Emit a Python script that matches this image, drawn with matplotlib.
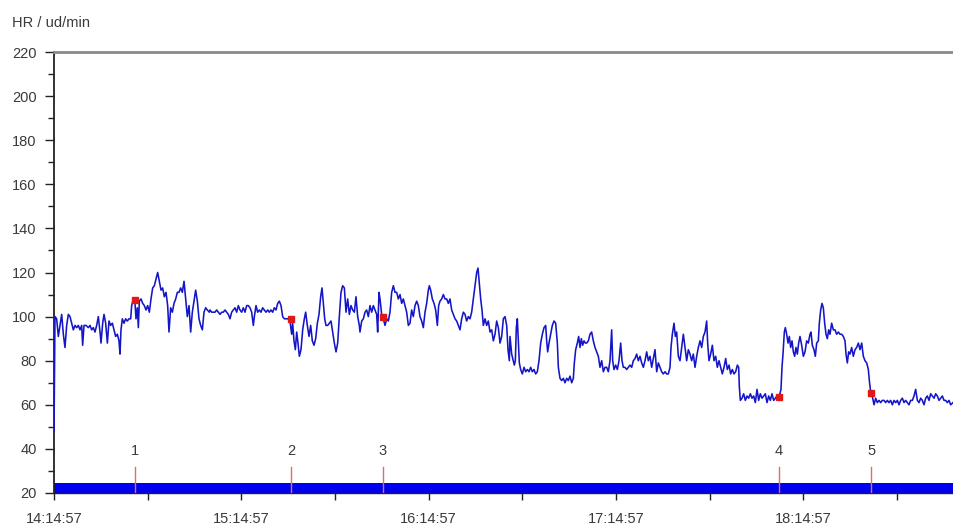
import matplotlib
matplotlib.use("Agg")
import matplotlib.pyplot as plt
from matplotlib.ticker import MultipleLocator, FixedLocator

# ---------------- data (minutes since 14:14:57, heart rate in beats/min) ----------------
start_min = [0.0]
start_hr = [48]

seg1_min = [0.32, 0.85, 1.39, 1.92, 2.46, 2.99, 3.52, 4.06, 4.59, 5.13,
            5.66, 6.19, 6.73, 7.26, 7.80, 8.33, 8.86, 9.18, 9.61, 10.25,
            11.00, 11.53, 12.07, 12.60, 13.13, 13.67, 14.20, 14.74, 15.06, 15.59,
            16.02, 16.55, 17.09, 17.62, 18.15, 18.69, 19.22, 19.75, 20.29, 20.82,
            21.14, 21.46, 21.89, 22.42, 22.96, 23.49, 24.03, 24.56, 24.88, 25.41,
            25.95, 26.27, 26.69, 27.02, 27.34, 27.87, 28.40, 28.94, 29.47, 30.00,
            30.54, 31.07, 31.61, 32.14, 32.67, 33.21, 33.74, 34.28, 34.81, 35.34,
            35.88, 36.41, 36.84, 37.37, 37.91, 38.44, 38.98, 39.51, 40.04, 40.58,
            41.11, 41.65, 42.18, 42.71, 43.25, 43.78, 44.31, 44.85, 45.38, 45.92,
            46.45, 46.98, 47.52, 48.05, 48.59, 49.12, 49.76]
seg1_hr = [100, 99, 91, 96, 101, 92, 86, 96, 101, 100,
           97, 94, 96, 95, 96, 94, 96, 87, 96, 96,
           95, 96, 94, 95, 93, 96, 100, 93, 88, 97,
           101, 97, 88, 98, 96, 97, 94, 91, 92, 89,
           83, 94, 99, 97, 99, 98, 99, 99, 105, 108,
           106, 99, 104, 95, 107, 108, 106, 105, 103, 105,
           102, 108, 113, 114, 117, 120, 116, 112, 113, 109,
           111, 105, 93, 104, 102, 106, 108, 111, 111, 113,
           111, 116, 108, 100, 105, 93, 102, 107, 112, 107,
           99, 96, 94, 102, 104, 103, 102]

seg2_min = [49.97, 50.51, 51.04, 51.58, 52.11, 52.64, 53.18, 53.71, 54.24, 54.78,
            55.31, 55.85, 56.38, 56.91, 57.45, 57.98, 58.52, 59.05, 59.58, 60.12,
            60.65, 61.19, 61.72, 62.25, 62.79, 63.32, 63.85, 64.18, 64.71, 65.24,
            65.78, 66.31, 66.84, 67.38, 67.91, 68.45, 68.98, 69.51, 70.05, 70.58,
            71.12, 71.65, 72.18, 72.72, 73.25, 73.79, 74.32, 75.07, 75.60, 76.13,
            76.45, 76.88, 77.31, 77.74, 78.16, 78.59, 79.12, 79.66, 80.19, 80.62,
            81.15, 81.69, 82.22, 82.75, 83.29, 83.82, 84.36, 84.89, 85.42, 85.85,
            86.28, 86.71, 87.13, 87.67, 88.20, 88.73, 89.27, 89.80, 90.34, 90.87,
            91.40, 91.94, 92.47, 93.01, 93.54, 94.07, 94.61, 95.14, 95.68, 96.21,
            96.74, 97.28, 97.81]
seg2_hr = [103, 102, 102, 102, 103, 102, 101, 102, 102, 103,
           102, 101, 99, 102, 103, 104, 102, 105, 103, 102,
           104, 102, 105, 105, 104, 102, 96, 100, 105, 102,
           103, 102, 104, 103, 102, 103, 102, 103, 102, 104,
           103, 106, 107, 105, 100, 99, 99, 99, 98, 92,
           97, 89, 85, 93, 88, 82, 85, 94, 99, 102,
           96, 91, 96, 89, 87, 90, 97, 101, 109, 113,
           106, 99, 96, 96, 97, 98, 93, 88, 84, 88,
           100, 111, 114, 113, 102, 108, 101, 105, 103, 102,
           109, 100, 96]

seg3_min = [98.02, 98.56, 99.09, 99.63, 100.16, 100.69, 101.23, 101.76, 102.29, 102.83,
            103.36, 103.68, 104.11, 104.43, 104.96, 105.50, 106.03, 106.57, 107.10, 107.63,
            108.17, 108.70, 109.24, 109.77, 110.30, 110.84, 111.37, 111.90, 112.44, 112.97,
            113.51, 114.04, 114.57, 115.11, 115.64, 116.18, 116.71, 117.24, 117.78, 118.31,
            118.85, 119.38, 119.91, 120.23, 120.66, 121.19, 121.73, 122.26, 122.80, 123.22,
            123.65, 124.18, 124.72, 125.25, 125.79, 126.32, 126.85, 127.39, 127.92, 128.46,
            128.99, 129.52, 130.06, 130.59, 131.13, 131.66, 132.19, 132.73, 133.26, 133.79,
            134.33, 134.86, 135.40, 135.82, 136.25, 136.68, 137.10, 137.53, 138.07, 138.60,
            139.13, 139.67, 140.20, 140.74, 141.27, 141.80, 142.34, 142.87, 143.40, 143.94,
            144.47, 145.01, 145.43, 145.86]
seg3_hr = [93, 98, 99, 102, 103, 100, 105, 102, 105, 103,
           101, 93, 111, 108, 101, 99, 96, 99, 98, 102,
           111, 114, 111, 111, 108, 110, 106, 108, 105, 102,
           96, 97, 103, 100, 105, 107, 105, 100, 98, 95,
           102, 106, 112, 114, 112, 108, 106, 103, 96, 105,
           107, 108, 110, 108, 108, 106, 108, 103, 101, 99,
           98, 96, 94, 99, 102, 101, 98, 100, 99, 102,
           108, 114, 120, 122, 115, 108, 103, 96, 99, 96,
           98, 93, 94, 89, 92, 98, 95, 88, 91, 99,
           100, 96, 85, 80]

seg4_min = [146.07, 146.61, 147.14, 147.46, 147.78, 148.10, 148.42, 148.74, 149.06, 149.49,
            150.02, 150.56, 151.09, 151.63, 152.16, 152.69, 153.23, 153.76, 154.30, 154.83,
            155.36, 155.90, 156.43, 156.97, 157.50, 157.82, 158.14, 158.57, 159.10, 159.63,
            160.17, 160.70, 161.24, 161.56, 162.09, 162.62, 163.16, 163.69, 164.23, 164.76,
            165.29, 165.83, 166.36, 166.68, 167.11, 167.64, 168.07, 168.50, 168.92, 169.35,
            169.78, 170.21, 170.63, 171.17, 171.70, 172.23, 172.77, 173.30, 173.84, 174.37,
            174.90, 175.44, 175.97, 176.51, 177.04, 177.57, 178.11, 178.64, 178.96, 179.39,
            179.92, 180.46, 180.99, 181.52, 181.95, 182.38, 182.91, 183.45, 183.98, 184.51,
            185.05, 185.58, 186.12, 186.65, 187.18, 187.72, 188.25, 188.79, 189.32, 189.85,
            190.39, 190.92, 191.46, 191.99, 192.52, 193.06, 193.59]
seg4_hr = [91, 83, 80, 78, 80, 95, 99, 89, 79, 76,
           74, 77, 75, 76, 75, 77, 75, 76, 74, 75,
           80, 88, 92, 95, 96, 89, 84, 88, 92, 96,
           98, 97, 88, 77, 72, 71, 72, 70, 72, 71,
           73, 70, 72, 79, 85, 88, 91, 86, 90, 87,
           89, 88, 88, 89, 92, 93, 89, 86, 84, 82,
           77, 80, 75, 77, 77, 75, 80, 94, 80, 76,
           78, 76, 80, 88, 80, 77, 77, 76, 77, 78,
           77, 80, 81, 83, 80, 82, 79, 77, 80, 84,
           80, 82, 77, 81, 85, 75, 79]

seg5_min = [194.12, 194.66, 195.19, 195.73, 196.26, 196.79, 197.33, 197.65, 198.07, 198.61,
            199.04, 199.46, 200.00, 200.53, 201.06, 201.60, 202.13, 202.67, 203.20, 203.73,
            204.27, 204.80, 205.34, 205.87, 206.40, 206.94, 207.47, 208.00, 208.54, 209.07,
            209.39, 209.82, 210.35, 210.89, 211.42, 211.96, 212.49, 213.02, 213.56, 214.09,
            214.63, 215.16, 215.69, 216.23, 216.76, 217.29, 217.83, 218.36, 218.90, 219.32,
            219.54, 219.86, 220.39, 220.92, 221.46, 221.99, 222.53, 223.06, 223.59, 224.13,
            224.66, 225.20, 225.73, 226.26, 226.80, 227.33, 227.87, 228.40, 228.93, 229.47,
            230.00, 230.54, 231.07, 231.60, 232.35, 232.88, 233.20, 233.52, 233.95, 234.27,
            234.70, 235.13, 235.55, 235.98, 236.41, 236.84, 237.26, 237.69, 238.12, 238.54,
            238.97, 239.51, 240.04, 240.57, 241.11, 241.64]
seg5_hr = [77, 75, 74, 75, 74, 74, 77, 86, 92, 97,
           91, 93, 82, 80, 86, 92, 86, 80, 85, 83,
           80, 83, 77, 82, 86, 89, 86, 91, 93, 98,
           88, 80, 83, 87, 80, 82, 77, 80, 77, 74,
           77, 81, 76, 78, 74, 76, 74, 75, 78, 77,
           68, 62, 63, 65, 62, 64, 63, 65, 63, 64,
           61, 67, 62, 65, 63, 64, 65, 61, 64, 62,
           65, 62, 63, 64, 64, 67, 77, 83, 93, 95,
           92, 88, 91, 86, 89, 84, 82, 86, 83, 88,
           91, 87, 82, 84, 89, 88]

seg6_min = [242.17, 242.49, 242.92, 243.45, 243.88, 244.31, 244.84, 245.16, 245.59, 246.02,
            246.44, 246.87, 247.30, 247.73, 248.15, 248.58, 249.11, 249.65, 250.18, 250.72,
            251.25, 251.78, 252.32, 252.85, 253.39, 253.71, 254.13, 254.56, 254.99, 255.52,
            256.05, 256.59, 257.12, 257.66, 258.19, 258.72, 259.26, 259.79, 260.33, 260.86,
            261.18, 261.50, 261.93, 262.25, 262.68, 263.21, 263.74, 264.28, 264.81, 265.34,
            265.88, 266.41, 266.95, 267.48, 268.01, 268.55, 269.08, 269.62, 270.15, 270.68,
            271.22, 271.75, 272.29, 272.82, 273.35, 273.89, 274.42, 274.96, 275.49, 276.02,
            276.56, 277.09, 277.62, 278.16, 278.69, 279.23, 279.76, 280.29, 280.83, 281.36,
            281.90, 282.43, 282.96, 283.50, 284.03, 284.57, 285.10, 285.63, 286.17, 286.70,
            287.24, 287.98]
seg6_hr = [92, 93, 87, 85, 82, 88, 89, 97, 103, 106,
           104, 97, 92, 90, 94, 92, 97, 94, 94, 92,
           93, 92, 92, 91, 89, 83, 79, 84, 83, 86,
           82, 85, 86, 88, 85, 88, 82, 80, 79, 76,
           71, 67, 65, 63, 60, 63, 61, 62, 61, 62,
           62, 61, 62, 61, 62, 60, 62, 61, 62, 60,
           62, 63, 61, 62, 61, 60, 62, 62, 64, 67,
           62, 61, 63, 62, 60, 63, 64, 62, 65, 64,
           63, 65, 64, 62, 63, 64, 62, 62, 61, 62,
           60, 61]

# lap / event markers
event_labels = ["1", "2", "3", "4", "5"]
event_min = [25.95, 75.92, 105.39, 232.25, 261.72]
event_hr = [107.5, 99, 100, 63.5, 65.5]

# time axis
time_labels = ["14:14:57", "15:14:57", "16:14:57", "17:14:57", "18:14:57"]
total_minutes = 288.3
y_min, y_max = 20, 220
band_top = 24.7          # height of the blue bottom band (ud/min)
event_line_top = 31.8
event_label_y = 39.0

minutes = start_min + seg1_min + seg2_min + seg3_min + seg4_min + seg5_min + seg6_min
hr = start_hr + seg1_hr + seg2_hr + seg3_hr + seg4_hr + seg5_hr + seg6_hr
assert len(minutes) == len(hr)

# ---------------- figure ----------------
plt.rcParams['font.family'] = ['Liberation Sans', 'DejaVu Sans']
W, H = 954, 526
fig = plt.figure(figsize=(W / 100, H / 100), dpi=100)
fig.patch.set_facecolor("white")
ax = fig.add_axes([54 / W, 33 / H, 900 / W, 441 / H])

text_color = "#3a3a3a"

# blue bottom band
ax.axhspan(y_min, band_top, color="#0000f0", zorder=2, lw=0)

# HR trace
ax.plot(minutes, hr, color="#1515c8", lw=1.15, zorder=3)

# event markers on the trace
ax.plot(event_min, event_hr, ls="none", marker="s", ms=4.5, color="#e01818",
        mec="#e01818", zorder=4)

# event lines and labels
for lab, t in zip(event_labels, event_min):
    ax.plot([t, t], [y_min + 0.3, event_line_top], color="#e86a6a", lw=1.0, zorder=5)
    ax.text(t, event_label_y, lab, ha="center", va="center", fontsize=10.5,
            color=text_color, zorder=5)

ax.set_xlim(0, total_minutes)
ax.set_ylim(y_min, y_max)

# axes styling
ax.spines["right"].set_visible(False)
ax.spines["top"].set_color("#8a8a8a")
ax.spines["top"].set_linewidth(2.0)
ax.spines["left"].set_color("#222222")
ax.spines["left"].set_linewidth(1.3)
ax.spines["bottom"].set_color("#222222")
ax.spines["bottom"].set_linewidth(1.0)

ax.yaxis.set_major_locator(MultipleLocator(20))
ax.yaxis.set_minor_locator(MultipleLocator(10))
ax.xaxis.set_major_locator(FixedLocator([60 * i for i in range(len(time_labels))]))
ax.xaxis.set_minor_locator(FixedLocator([60 * i + 30 for i in range(len(time_labels))]))
ax.set_xticklabels(time_labels)

ax.tick_params(axis="y", which="major", direction="out", length=6.5, width=1.0,
               color="#222222", labelsize=10.5, labelcolor=text_color, pad=6)
ax.tick_params(axis="y", which="minor", direction="out", length=4.5, width=1.0,
               color="#222222")
ax.tick_params(axis="x", which="both", direction="out", length=5, width=1.0,
               color="#222222", labelsize=10.5, labelcolor=text_color, pad=9)

fig.text(12 / W, 1 - 27 / H, "HR / ud/min", fontsize=10.5, color=text_color,
         ha="left", va="baseline")

fig.savefig("out.png", dpi=100, facecolor="white")
